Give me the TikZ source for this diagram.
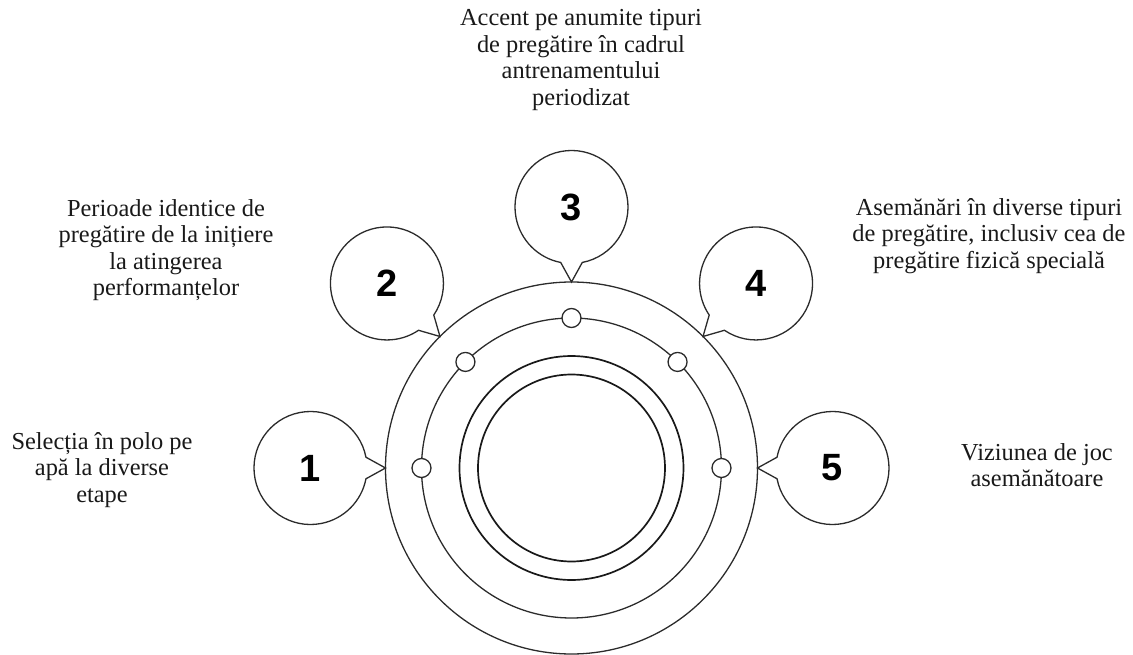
\documentclass[tikz,border=0pt]{standalone}
\usepackage{fontspec}
\setmainfont{Liberation Serif}
\newfontfamily\numfont{Liberation Sans}
\usepackage{tikz}
\usetikzlibrary{calc}
\definecolor{LineGray}{HTML}{2B2B2B}

\begin{document}
\begin{tikzpicture}[
        x=1pt, y=1pt,
        ring/.style={
            circle,
            draw=LineGray,
            line width=1.3pt,
            inner sep=0pt,
            outer sep=0pt
        },
        corering/.style={
            ring,
            draw=black!90,
            line width=1.7pt
        },
        dot/.style={
            ring,
            fill=white,
            minimum size=19pt
        },
        bubble/.style={
            draw=LineGray,
            line width=1.3pt,
            fill=white,
            line join=miter
        },
        number/.style={
            font=\numfont\fontsize{38}{38}\selectfont\bfseries,
            text=black
        },
        label/.style={
            align=center,
            font=\fontsize{24.4}{26.5}\selectfont,
            text=black!90
        }
    ]
        \useasboundingbox (-571.5,-186) rectangle (561.5,468);

        % rings
        \node[ring, minimum size=372pt] (outer) at (0,0) {};
        \node[ring, minimum size=300pt] (track) at (0,0) {};
        \node[corering, minimum size=224pt] (core) at (0,0) {};
        \node[corering, minimum size=187pt] (inner) at (0,0) {};

        % markers on the track
        \foreach \a in {0,45,90,135,180}
            \node[dot] (m\a) at (track.\a) {};

        % numbered callouts
        \foreach \n/\a in {1/180, 2/135, 3/90, 4/45, 5/0} {
            \coordinate (b\n) at ($(outer.center)+(\a:261)$);
            \draw[bubble] ([shift={(\a+191:56.5)}]b\n)
                arc[start angle=\a+191, end angle=\a+529, radius=56.5]
                -- (outer.\a) -- cycle;
            \node[number] (n\n) at (b\n) {\n};
        }

        % texts
        \node[label] (selectie) at (-469.5,-2)
            {Selecția în polo pe\\apă la diverse\\etape};
        \node[label] (perioade) at (-405.5,218)
            {Perioade identice de\\pregătire de la inițiere\\la atingerea\\performanțelor};
        \node[label] (accent) at (9.5,408)
            {Accent pe anumite tipuri\\de pregătire în cadrul\\antrenamentului\\periodizat};
        \node[label] (asemanari) at (417.5,232)
            {Asemănări în diverse tipuri\\de pregătire, inclusiv cea de\\pregătire fizică specială};
        \node[label] (viziune) at (465.5,3)
            {Viziunea de joc\\asemănătoare};
    \end{tikzpicture}
\end{document}
